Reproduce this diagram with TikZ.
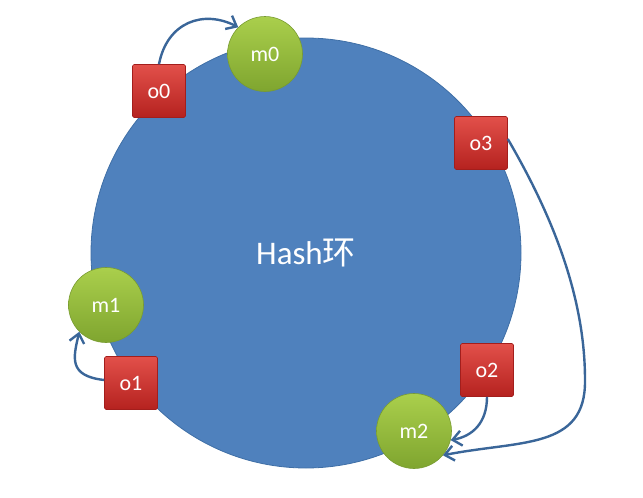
\documentclass[tikz,border=0pt]{standalone}
\usepackage{fontspec}
\setmainfont{Carlito}
\newfontfamily\cjk{Noto Sans CJK SC}
\usetikzlibrary{arrows.meta}
\definecolor{ringblue}{HTML}{4F81BD}
\definecolor{ringedge}{HTML}{3F6FA6}
\definecolor{arrowblue}{HTML}{3A6699}
\definecolor{objtop}{HTML}{E2504A}
\definecolor{objbottom}{HTML}{B5221F}
\definecolor{objedge}{HTML}{A31E1C}
\definecolor{mactop}{HTML}{AACF4C}
\definecolor{macbottom}{HTML}{7FA52F}
\definecolor{macedge}{HTML}{789B31}
\begin{document}
\begin{tikzpicture}
    [x=1pt, y=-1pt,
    font=\fontsize{22}{26}\selectfont,
    ring/.style={circle, fill=ringblue, draw=ringedge, line width=0.8pt,
        minimum size=430pt, text=white, font=\fontsize{33}{38}\selectfont},
    obj/.style={rectangle, rounded corners=1.5pt, minimum size=53pt,
        top color=objtop, bottom color=objbottom, draw=objedge,
        line width=0.6pt, text=white, inner sep=0pt},
    mac/.style={circle, minimum size=75pt, top color=mactop,
        bottom color=macbottom, draw=macedge, line width=0.6pt,
        text=white, inner sep=0pt},
    move/.style={draw=arrowblue, line width=2.4pt,
        -{Straight Barb[length=9pt, width=15pt, line width=2.4pt]}}]
    \useasboundingbox (0,0) rectangle (643,498);
    % the ring
    \node[ring] (ring) at (306,253) {Hash{\cjk 环}};
    % machines
    \node[mac] (m0) at (265,54) {m0};
    \node[mac] (m1) at (106,305) {m1};
    \node[mac] (m2) at (414,431) {m2};
    % objects
    \node[obj] (o0) at (159,91) {o0};
    \node[obj] (o1) at (131,383) {o1};
    \node[obj] (o2) at (487,370) {o2};
    \node[obj] (o3) at (481,143) {o3};
    % where each object goes
    \draw[move] (o0.north) .. controls +(8,-42) and +(-35,-18) .. (m0.north west);
    \draw[move] ([yshift=3pt]o1.west) .. controls +(-36,-4) and +(-6,26) .. (m1.south west);
    \draw[move] (o2.south) .. controls +(0,26) and +(22,-4) .. (m2.-14);
    \draw[move] ([yshift=4pt]o3.east) .. controls (555,220) and (585,300) .. (585,380)
        .. controls (586,450) and (520,440) .. (m2.-40);
\end{tikzpicture}
\end{document}
